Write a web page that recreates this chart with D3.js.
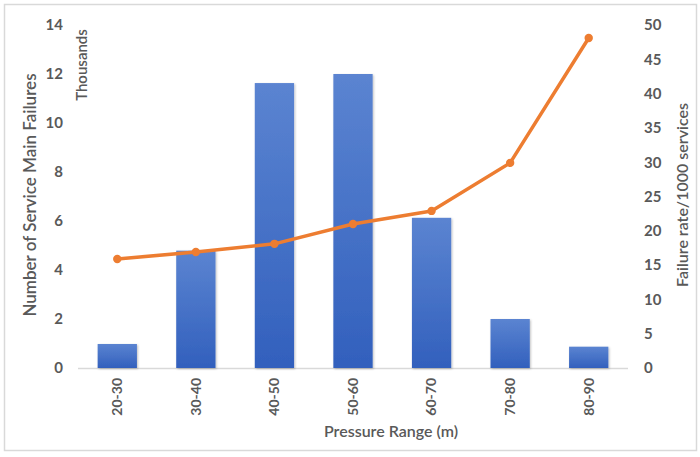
<!DOCTYPE html>
<html>
<head>
<meta charset="utf-8">
<script src="https://cdn.jsdelivr.net/npm/d3@7"></script>
<style>
  html, body { margin: 0; padding: 0; background: #fff; }
  svg { display: block; font-family: Lato, "Open Sans", sans-serif; }
</style>
</head>
<body>
<svg id="chart" width="700" height="457"></svg>
<script>
const categories = ["20-30", "30-40", "40-50", "50-60", "60-70", "70-80", "80-90"];
const failuresThousands = [0.98, 4.79, 11.63, 12.0, 6.13, 2.0, 0.87];
const failureRate = [15.9, 16.9, 18.1, 21.0, 22.9, 29.9, 48.1];
const leftTicks = [0, 2, 4, 6, 8, 10, 12, 14];
const rightTicks = [0, 5, 10, 15, 20, 25, 30, 35, 40, 45, 50];

const svg = d3.select("#chart");
const textColor = "#595959";

// chart frame
svg.append("rect")
  .attr("x", 4.5).attr("y", 4.5).attr("width", 692).attr("height", 446)
  .attr("fill", "#fff").attr("stroke", "#d9d9d9").attr("stroke-width", 1.5);

const plot = { left: 78, right: 628, top: 25, bottom: 368 };

const x = d3.scaleBand().domain(categories).range([plot.left, plot.right]).paddingInner(0.5).paddingOuter(0.25);
const yL = d3.scaleLinear().domain([0, 14]).range([plot.bottom, plot.top]);
const yR = d3.scaleLinear().domain([0, 50]).range([plot.bottom, plot.top]);

const defs = svg.append("defs");
const grad = defs.append("linearGradient").attr("id", "barGrad")
  .attr("x1", 0).attr("y1", 0).attr("x2", 0).attr("y2", 1);
grad.append("stop").attr("offset", "0%").attr("stop-color", "#5b84d1");
grad.append("stop").attr("offset", "100%").attr("stop-color", "#3260bd");
const shadow = defs.append("filter").attr("id", "shadow").attr("x", "-20%").attr("y", "-20%").attr("width", "140%").attr("height", "140%");
shadow.append("feDropShadow").attr("dx", 1).attr("dy", 1).attr("stdDeviation", 1.2)
  .attr("flood-color", "#000").attr("flood-opacity", 0.25);

// baseline
svg.append("line")
  .attr("x1", plot.left).attr("x2", plot.right)
  .attr("y1", plot.bottom + 0.5).attr("y2", plot.bottom + 0.5)
  .attr("stroke", "#d9d9d9").attr("stroke-width", 1.5);

// bars
svg.append("g").selectAll("rect").data(categories).join("rect")
  .attr("x", d => x(d))
  .attr("width", x.bandwidth())
  .attr("y", (d, i) => yL(failuresThousands[i]))
  .attr("height", (d, i) => yL(0) - yL(failuresThousands[i]))
  .attr("fill", "url(#barGrad)")
  .attr("filter", "url(#shadow)");

// line
const pts = categories.map((c, i) => [x(c) + x.bandwidth() / 2, yR(failureRate[i])]);
svg.append("path")
  .attr("d", d3.line()(pts))
  .attr("fill", "none").attr("stroke", "#ed7d31").attr("stroke-width", 3.5)
  .attr("stroke-linejoin", "round").attr("stroke-linecap", "round");
svg.append("g").selectAll("circle").data(pts).join("circle")
  .attr("cx", d => d[0]).attr("cy", d => d[1]).attr("r", 4.2)
  .attr("fill", "#ed7d31");

// left axis
const leftAxis = d3.axisLeft(yL).tickValues(leftTicks).tickSize(0).tickPadding(0);
const gL = svg.append("g").attr("transform", "translate(63,0)").call(leftAxis);
gL.select(".domain").remove();
gL.selectAll("text").attr("fill", textColor).attr("font-size", 15).attr("font-weight", 700)
  .attr("font-family", "Lato, sans-serif");

// right axis
const rightAxis = d3.axisRight(yR).tickValues(rightTicks).tickSize(0).tickPadding(0);
const gR = svg.append("g").attr("transform", "translate(644,0)").call(rightAxis);
gR.select(".domain").remove();
gR.selectAll("text").attr("fill", textColor).attr("font-size", 15).attr("font-weight", 700)
  .attr("font-family", "Lato, sans-serif");

// bottom axis (rotated labels)
const bottomAxis = d3.axisBottom(x).tickSize(0).tickPadding(0);
const gB = svg.append("g").attr("transform", `translate(0,${plot.bottom})`).call(bottomAxis);
gB.select(".domain").remove();
gB.selectAll("text")
  .attr("fill", textColor).attr("font-size", 14).attr("font-weight", 700)
  .attr("font-family", "Lato, sans-serif")
  .attr("transform", "rotate(-90)")
  .attr("text-anchor", "end")
  .attr("dy", "0.35em")
  .attr("x", -10).attr("y", 0);

// axis titles
svg.append("text")
  .attr("transform", "translate(36,195) rotate(-90)")
  .attr("text-anchor", "middle").attr("fill", textColor)
  .attr("font-size", 17).attr("font-weight", 600)
  .text("Number of Service Main Failures");

svg.append("text")
  .attr("transform", "translate(87,65) rotate(-90)")
  .attr("text-anchor", "middle").attr("fill", textColor)
  .attr("font-size", 15).attr("font-weight", 600)
  .text("Thousands");

svg.append("text")
  .attr("transform", "translate(688,195) rotate(-90)")
  .attr("text-anchor", "middle").attr("fill", textColor)
  .attr("font-size", 16).attr("font-weight", 600)
  .text("Failure rate/1000 services");

svg.append("text")
  .attr("x", 391).attr("y", 437)
  .attr("text-anchor", "middle").attr("fill", textColor)
  .attr("font-size", 16).attr("font-weight", 600)
  .text("Pressure Range (m)");
</script>
</body>
</html>
